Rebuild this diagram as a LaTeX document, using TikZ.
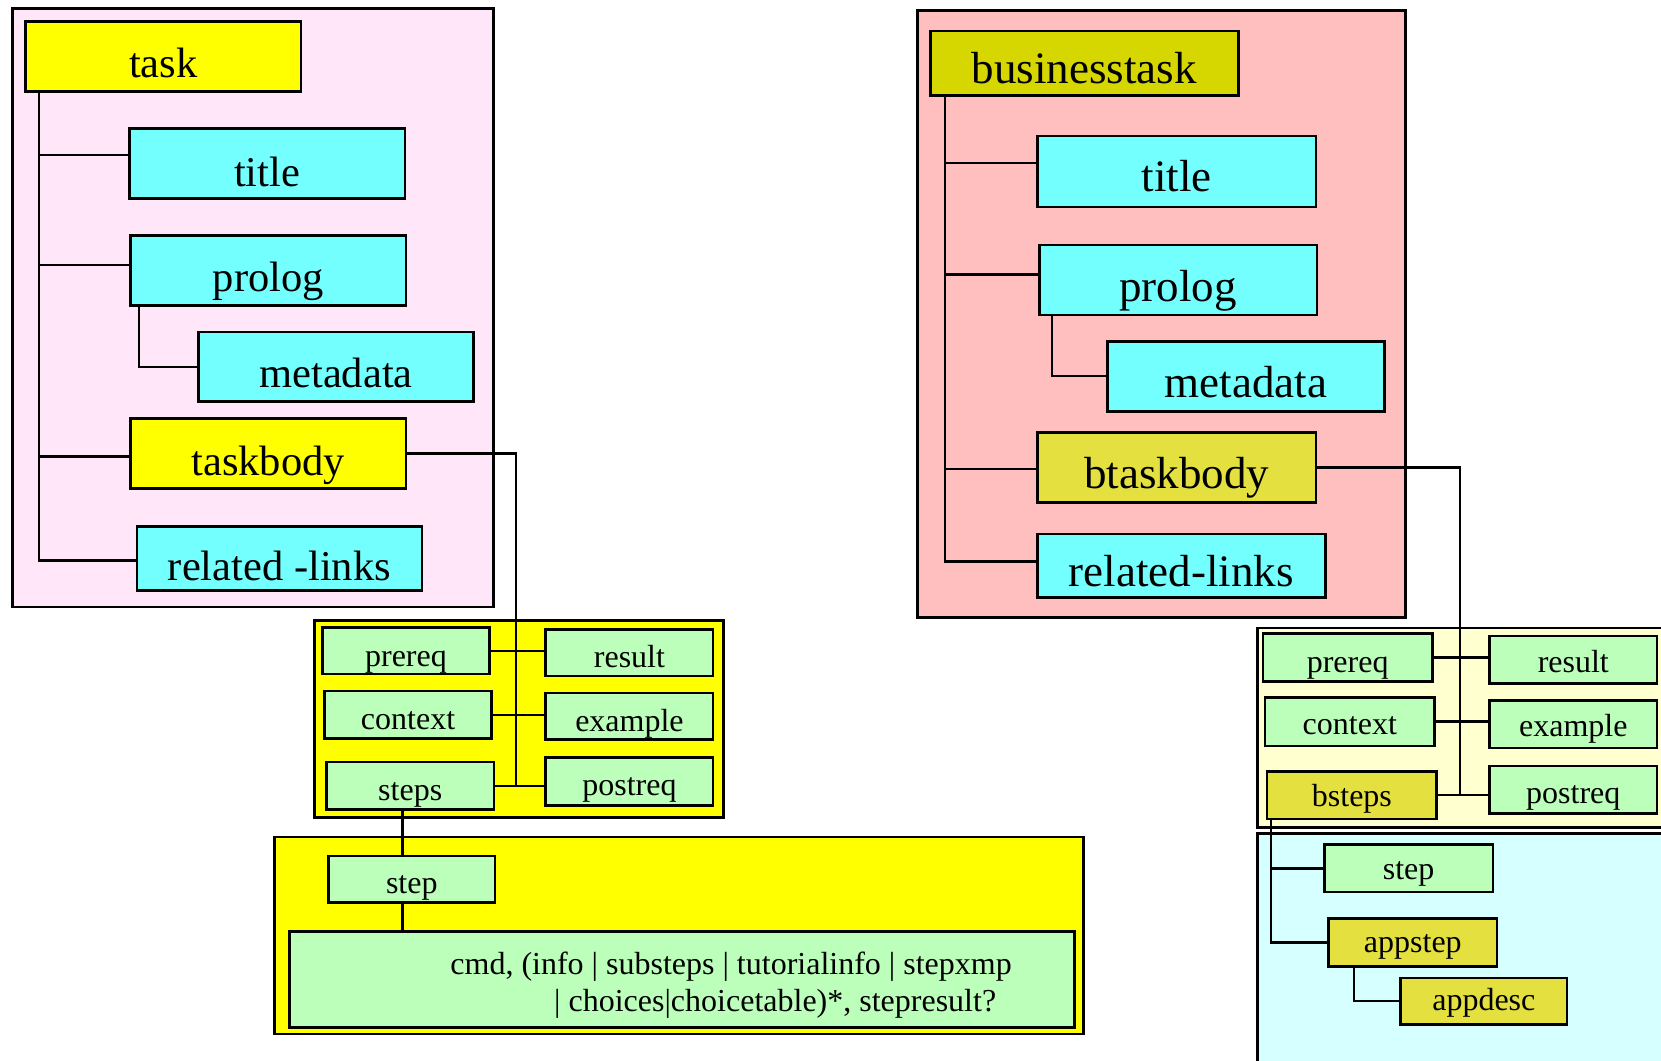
\documentclass[tikz,border=0pt]{standalone}
\usepackage{fontspec}
\setmainfont{Liberation Serif}

\definecolor{pinkL}{HTML}{FFE6F8}
\definecolor{pinkR}{HTML}{FFBFBF}
\definecolor{yel}{HTML}{FFFF00}
\definecolor{cyn}{HTML}{74FFFF}
\definecolor{grn}{HTML}{BBFFBB}
\definecolor{olive}{HTML}{D6D600}
\definecolor{mustard}{HTML}{E3E040}
\definecolor{paleyel}{HTML}{FFFFD0}
\definecolor{palecyn}{HTML}{D6FFFF}

% \elbox{name}{x1}{y1}{x2}{y2}{baseline y}{text}{style}
% draws a box from (x1,y1) to (x2,y2) with its text sitting on the given baseline
\newcommand{\elbox}[8]{%
  \pgfmathsetmacro{\elW}{(#4-#2)*1.0593}%
  \pgfmathsetmacro{\elH}{(#5-#3)*1.0593}%
  \pgfmathsetmacro{\elD}{(#5-#6)*1.0593}%
  \pgfmathsetmacro{\elT}{\elH-\elD}%
  \node[boxbase,#8,minimum width=\elW pt,minimum height=\elH pt,
        text height=\elT pt,text depth=\elD pt] (#1) at (#2,#3) {#7};%
}

\tikzset{
  boxbase/.style={draw=black, line width=2.6pt, inner sep=0pt, anchor=north west},
  panel/.style={draw=black, line width=2.6pt},
  conn/.style={draw=black, line width=2.3pt},
  yelbox/.style={fill=yel},
  cynbox/.style={fill=cyn},
  grnbox/.style={fill=grn},
  olivebox/.style={fill=olive},
  mustbox/.style={fill=mustard},
  bigL/.style={font=\fontsize{42.5}{50}\selectfont},
  bigR/.style={font=\fontsize{45}{54}\selectfont},
  smalltext/.style={font=\fontsize{32}{38}\selectfont},
}

\begin{document}
\begin{tikzpicture}[x=1.0593pt,y=-1.0593pt]
\useasboundingbox (0,0) rectangle (1568,1001);
\begin{scope}
\clip (0,0) rectangle (1568,1001);

% ---------- task (left) ----------
\path[panel, fill=pinkL] (12,8) rectangle (466,573);
\elbox{task}{23}{19}{283}{85}{72}{task}{yelbox,bigL}
\elbox{titleL}{121}{120}{381}{186}{175}{title}{cynbox,bigL}
\elbox{prologL}{122}{221}{382}{287}{274}{prolog}{cynbox,bigL}
\elbox{metaL}{186}{312}{446}{378}{365}{metadata}{cynbox,bigL}
\elbox{bodyL}{122}{394}{382}{460}{448}{taskbody}{yelbox,bigL}
\elbox{relL}{128}{496}{397}{556}{547}{related -links}{cynbox,bigL}

% taskbody content
\path[panel, fill=yel] (297,586) rectangle (683,772);
\elbox{prereqL}{303}{591}{461}{635}{628}{prereq}{grnbox,smalltext}
\elbox{resultL}{514}{593}{672}{637}{629}{result}{grnbox,smalltext}
\elbox{contextL}{305}{651}{463}{696}{687}{context}{grnbox,smalltext}
\elbox{exampleL}{514}{653}{672}{697}{689}{example}{grnbox,smalltext}
\elbox{stepsL}{307}{718}{465}{763}{754}{steps}{grnbox,smalltext}
\elbox{postreqL}{514}{714}{672}{759}{750}{postreq}{grnbox,smalltext}

% step content
\path[panel, fill=yel] (259,790) rectangle (1023,976);
\elbox{stepL}{309}{807}{466}{851}{842}{step}{grnbox,smalltext}
\elbox{cmd}{272}{878}{1013}{969}{960}{}{grnbox,smalltext}
\node[smalltext, inner sep=0pt, anchor=base west] (cmdA) at (425,920)
  {cmd, (info | substeps | tutorialinfo | stepxmp};
\node[smalltext, inner sep=0pt, anchor=base west] (cmdB) at (523,955)
  {| choices|choicetable)*, stepresult?};

% ---------- businesstask (right) ----------
\path[panel, fill=pinkR] (866,10) rectangle (1327,583);
\elbox{btask}{877}{28}{1168}{89}{78}{businesstask}{olivebox,bigR}
\elbox{titleR}{978}{127}{1241}{194}{180}{title}{cynbox,bigR}
\elbox{prologR}{980}{230}{1242}{296}{283}{prolog}{cynbox,bigR}
\elbox{metaR}{1044}{321}{1306}{387}{374}{metadata}{cynbox,bigR}
\elbox{bodyR}{978}{407}{1241}{473}{460}{btaskbody}{mustbox,bigR}
\elbox{relR}{978}{503}{1250}{563}{552}{related-links}{cynbox,bigR}

% btaskbody content
\path[panel, fill=paleyel] (1187,593) rectangle (1590,781);
\elbox{prereqR}{1191}{597}{1351}{642}{634}{prereq}{grnbox,smalltext}
\elbox{resultR}{1405}{599}{1563}{644}{634}{result}{grnbox,smalltext}
\elbox{contextR}{1193}{657}{1353}{703}{692}{context}{grnbox,smalltext}
\elbox{exampleR}{1405}{660}{1563}{705}{694}{example}{grnbox,smalltext}
\elbox{bstepsR}{1195}{727}{1355}{772}{760}{bsteps}{mustbox,smalltext}
\elbox{postreqR}{1405}{722}{1563}{767}{757}{postreq}{grnbox,smalltext}

% bsteps content
\path[panel, fill=palecyn] (1187,787) rectangle (1590,1020);
\elbox{stepR}{1249}{796}{1408}{841}{829}{step}{grnbox,smalltext}
\elbox{appstep}{1253}{866}{1412}{911}{898}{appstep}{mustbox,smalltext}
\elbox{appdesc}{1321}{922}{1478}{966}{953}{appdesc}{mustbox,smalltext}

% ---------- connectors (left) ----------
\coordinate (trL) at (37,85);
\coordinate (jTitleL) at (121,146);
\coordinate (jPrologL) at (122,250);
\coordinate (jBodyL) at (122,431);
\coordinate (jRelL) at (128,529);
\draw[conn] (trL) |- (jRelL);
\draw[conn] (trL |- jTitleL) -- (jTitleL);
\draw[conn] (trL |- jPrologL) -- (jPrologL);
\draw[conn] (trL |- jBodyL) -- (jBodyL);
\coordinate (pmL) at (131,287);
\draw[conn] (pmL) |- (metaL.west);

\coordinate (spL) at (487,0);
\draw[conn] (bodyL.east) -- (bodyL.east -| spL) -- (stepsL.east -| spL);
\draw[conn] (prereqL.east) -- (prereqL.east -| resultL.west);
\draw[conn] (contextL.east) -- (contextL.east -| exampleL.west);
\draw[conn] (stepsL.east) -- (stepsL.east -| postreqL.west);

\coordinate (sdL) at (380,0);
\draw[conn] (stepsL.south -| sdL) -- (stepL.north -| sdL);
\draw[conn] (stepL.south -| sdL) -- (cmd.north -| sdL);

% ---------- connectors (right) ----------
\coordinate (trR) at (892,92);
\coordinate (jTitleR) at (978,154);
\coordinate (jPrologR) at (980,259);
\coordinate (jBodyR) at (978,443);
\coordinate (jRelR) at (978,530);
\draw[conn] (trR) |- (jRelR);
\draw[conn] (trR |- jTitleR) -- (jTitleR);
\draw[conn] (trR |- jPrologR) -- (jPrologR);
\draw[conn] (trR |- jBodyR) -- (jBodyR);
\coordinate (pmR) at (993,296);
\draw[conn] (pmR) |- (metaR.west);

\coordinate (spR) at (1378,0);
\draw[conn] (bodyR.east) -- (bodyR.east -| spR) -- (bstepsR.east -| spR);
\draw[conn] (prereqR.east) -- (prereqR.east -| resultR.west);
\draw[conn] (contextR.east) -- (contextR.east -| exampleR.west);
\draw[conn] (bstepsR.east) -- (bstepsR.east -| postreqR.west);

\coordinate (sdR) at (1200,0);
\draw[conn] (bstepsR.south -| sdR) |- (appstep.west);
\draw[conn] (sdR |- stepR.west) -- (stepR.west);
\coordinate (adR) at (1278,0);
\draw[conn] (appstep.south -| adR) |- (appdesc.west);
\end{scope}
\end{tikzpicture}
\end{document}
